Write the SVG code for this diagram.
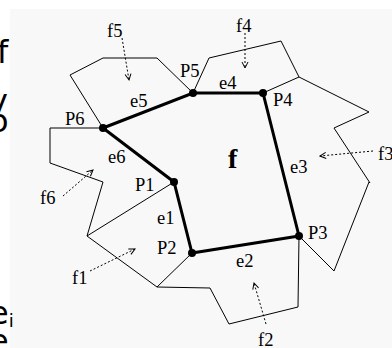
<svg xmlns="http://www.w3.org/2000/svg" width="392" height="348" viewBox="0 0 392 348">
<style>
.face{fill:none;stroke:#000;stroke-width:1}
.edge{fill:none;stroke:#000;stroke-width:3}
.ptr{fill:none;stroke:#000;stroke-width:1;stroke-dasharray:2 2}
.lbl{font-family:"Liberation Serif",serif;font-size:18.5px;fill:#000}
.big{font-family:"Liberation Serif",serif;font-size:28px;font-weight:bold;fill:#000}
.page{font-family:"DejaVu Sans",sans-serif;font-size:32px;fill:#000}
</style>
<defs>
<marker id="ah" markerWidth="8" markerHeight="8" refX="7" refY="4" orient="auto" markerUnits="userSpaceOnUse">
<path d="M1,1 L7,4 L1,7" fill="none" stroke="#000" stroke-width="1"/>
</marker>
</defs>
<rect x="0" y="0" width="392" height="348" fill="#fff"/>
<rect x="10" y="9" width="382" height="339" fill="#f8f8f8"/>
<g id="page-text">
<text class="page" x="-3" y="63">f</text>
<text class="page" x="-11" y="112">y</text>
<text class="page" x="-11" y="132">o</text>
<text class="page" x="-11" y="324">e<tspan font-size="18" dy="3">i</tspan></text>
<text class="page" x="-11" y="352">e</text>
</g>
<g id="faces">
<polyline class="face" points="103,128 70,75 103,58 157,58 193,93"/>
<polyline class="face" points="193,93 209,58 281,41 299,77 263,93"/>
<polyline class="face" points="299,77 369,112 334,128 370,183 369,182 334,271 299,236"/>
<polyline class="face" points="103,128 50,128 50,163 103,182 87,236 174,182"/>
<polyline class="face" points="87,236 157,287 192,253"/>
<polyline class="face" points="157,287 210,288 229,324 298,307 299,236"/>
</g>
<g id="connectors">
<polyline class="edge" points="103,128 193,93 263,93 299,236 192,253 174,182 103,128"/>
<line class="ptr" x1="122" y1="38" x2="129" y2="80" marker-end="url(#ah)"/>
<line class="ptr" x1="245" y1="33" x2="245" y2="68" marker-end="url(#ah)"/>
<line class="ptr" x1="373" y1="151" x2="320" y2="156" marker-end="url(#ah)"/>
<line class="ptr" x1="63" y1="196" x2="93" y2="170" marker-end="url(#ah)"/>
<line class="ptr" x1="90" y1="271" x2="135" y2="249" marker-end="url(#ah)"/>
<line class="ptr" x1="266" y1="324" x2="254" y2="283" marker-end="url(#ah)"/>
</g>
<g id="P1"><circle cx="174" cy="182" r="4"/><text class="lbl" x="135" y="191">P1</text></g>
<g id="P2"><circle cx="192" cy="253" r="4"/><text class="lbl" x="157" y="254">P2</text></g>
<g id="P3"><circle cx="299" cy="236" r="4"/><text class="lbl" x="308" y="239">P3</text></g>
<g id="P4"><circle cx="263" cy="93" r="4"/><text class="lbl" x="273" y="106">P4</text></g>
<g id="P5"><circle cx="193" cy="93" r="4"/><text class="lbl" x="180" y="77">P5</text></g>
<g id="P6"><circle cx="103" cy="128" r="4"/><text class="lbl" x="65" y="125">P6</text></g>
<g id="edge-labels">
<text class="lbl" x="157" y="224">e1</text>
<text class="lbl" x="236" y="267">e2</text>
<text class="lbl" x="290" y="173">e3</text>
<text class="lbl" x="219" y="89">e4</text>
<text class="lbl" x="130" y="107">e5</text>
<text class="lbl" x="108" y="163">e6</text>
</g>
<g id="face-labels">
<text class="big" x="228" y="168">f</text>
<text class="lbl" x="72" y="284">f1</text>
<text class="lbl" x="258" y="346">f2</text>
<text class="lbl" x="378" y="160">f3</text>
<text class="lbl" x="236" y="32">f4</text>
<text class="lbl" x="107" y="37">f5</text>
<text class="lbl" x="40" y="204">f6</text>
</g>
</svg>
